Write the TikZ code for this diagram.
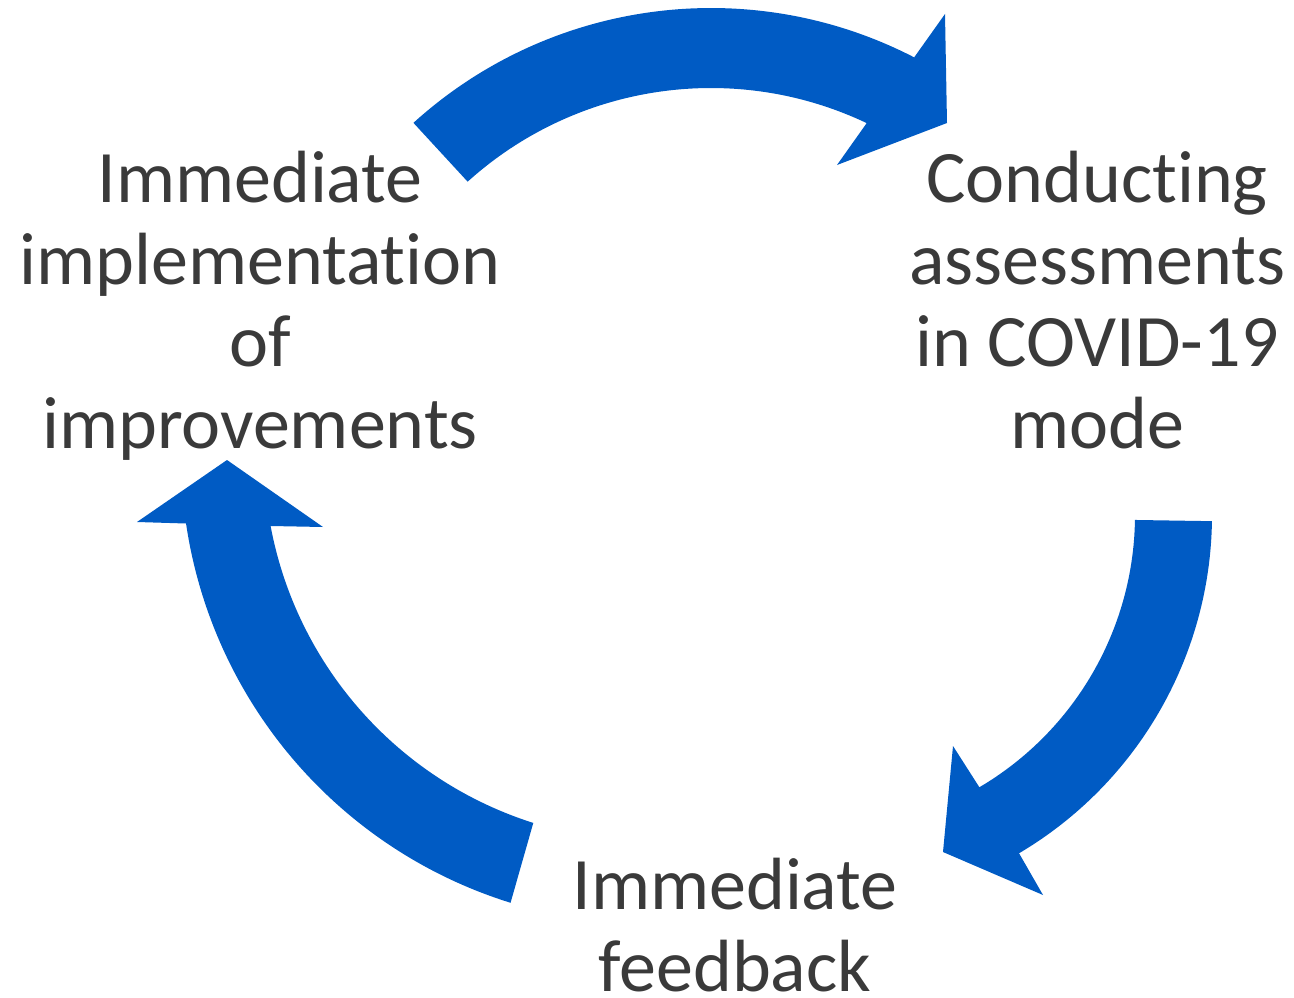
\documentclass[tikz,border=0pt]{standalone}
\usepackage{fontspec}
\setmainfont{Carlito}[Ligatures=NoCommon]
\usetikzlibrary{calc}
\definecolor{arrowblue}{HTML}{005BC4}
\definecolor{textgray}{HTML}{3A3A3A}
\begin{document}
\begin{tikzpicture}[x=1pt,y=1pt,
  blockarrow/.style={fill=arrowblue, draw=none},
  label/.style={inner sep=0pt, outer sep=0pt, align=center, text=textgray,
    font=\fontsize{74}{81.7}\selectfont, anchor=base}]
\useasboundingbox (0,0) rectangle (1294,-998);
% centres of the three arcs
\coordinate (cT) at (711,-451);
\coordinate (cR) at (819,-515);
\coordinate (cL) at (650,-455);
% top arrow
\fill[blockarrow] ($(cT)+(132.2:443)$) arc[start angle=132.2, end angle=62.7, radius=443]
  -- (945,-14) -- (947,-123) -- (837,-165)
  -- ($(cT)+(64.6:363)$) arc[start angle=64.6, end angle=132.1, radius=363] -- cycle;
% right arrow
\fill[blockarrow] ($(cR)+(-0.9:393)$) arc[start angle=-0.9, end angle=-59.4, radius=393]
  -- (1043,-895) -- (943,-852) -- (953,-746)
  -- ($(cR)+(-59.5:316)$) arc[start angle=-59.5, end angle=-0.9, radius=316] -- cycle;
% left arrow
\fill[blockarrow] ($(cL)+(252.7:469)$) arc[start angle=252.7, end angle=188.4, radius=469]
  -- (137,-522) -- (227,-460) -- (323,-527)
  -- ($(cL)+(190.6:386)$) arc[start angle=190.6, end angle=252.4, radius=386] -- cycle;
% labels (base anchor = baseline of the last line)
\node[label] (impl) at (260,-448) {Immediate\\implementation\\of\\improvements};
\node[label] (cond) at (1097,-448) {Conducting\\assessments\\in COVID-19\\mode};
\node[label] (feed) at (735,-991) {Immediate\\feedback};
\end{tikzpicture}
\end{document}
